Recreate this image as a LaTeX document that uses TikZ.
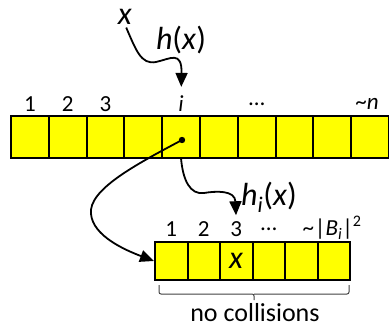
\documentclass[tikz,border=0pt]{standalone}
\usepackage{fontspec}
\setmainfont{Carlito}
\usepackage{tikz}
\usepackage{xcolor}
\usetikzlibrary{positioning, arrows.meta, calc}
\definecolor{cCell}  {HTML}{FFFF00}
\definecolor{cBrace} {HTML}{404040}

\begin{document}
\begin{tikzpicture}[x=1pt, y=-1pt,
    cell/.style={draw, fill=cCell, line width=2pt, inner sep=0pt},
    lbl/.style={inner sep=0pt, font=\fontsize{23pt}{28pt}\selectfont},
    big/.style={inner sep=0pt, font=\fontsize{32pt}{38pt}\selectfont},
    hop/.style={line width=1.8pt, -{Triangle[length=14pt, width=12pt]}},
  ]
  \useasboundingbox (0,0) rectangle (389,329);
  % top table, ten slots
  \foreach \k in {1,...,10}
    \node[cell, minimum width=37.8pt, minimum height=42pt] (t\k) at ({11+37.8*(\k-0.5)}, 137) {};
  \node[lbl] (tl1) at (t1.center |- 0,104) {1};
  \node[lbl] (tl2) at (t2.center |- 0,104) {2};
  \node[lbl] (tl3) at (t3.center |- 0,104) {3};
  \node[lbl] (tli) at (t5.center |- 0,104) {\textit{i}};
  \node[lbl] (tld) at (t7.center |- 0,104) {\dots};
  \node[lbl] (tln) at (367,104) {\textasciitilde\textit{n}};
  % second level table for bucket i
  \foreach \k in {1,...,6}
    \node[cell, minimum width=32.5pt, minimum height=38pt] (b\k) at ({155+32.5*(\k-0.5)}, 261) {};
  \node[lbl] (bl1) at (b1.center |- 0,229) {1};
  \node[lbl] (bl2) at (b2.center |- 0,229) {2};
  \node[lbl] (bl3) at (b3.center |- 0,229) {3};
  \node[lbl] (bl4) at (b4.center |- 0,229) {\dots};
  \node[lbl] (bl6) at (332,228) {\textasciitilde\kern1pt|\textit{B}\textsubscript{\textit{i}}|\textsuperscript{2}};
  \node[big] (bx) at (b3) {\textit{x}};
  % key and hash labels
  \node[big] (xlab) at (125,17) {\textit{x}};
  \node[big] (hlab) at (181,40) {\textit{h}(\textit{x})};
  \node[big] (hilab) at (269,197) {\textit{h}\textsubscript{\textit{i}}(\textit{x})};
  \coordinate (dot) at (182,140);
  \fill (dot) circle (3.2pt);
  \draw[hop, shorten <=3pt, shorten >=9pt] (xlab.south)
        .. controls (136,50) and (141,65) .. (156,62)
        .. controls (170,59) and (182,50) .. (tli.north);
  \draw[hop, shorten >=6pt] (t5.south)
        .. controls (183,180) and (190,195) .. (204,193)
        .. controls (216,191) and (235,190) .. (bl3.north);
  \draw[hop] (dot) .. controls (135,165) and (88,190) .. (91,214)
        .. controls (93,236) and (125,250) .. (b1.west);
  % brace under second table
  \draw[cBrace, line width=1pt, rounded corners=2pt]
        (159,285) -- (159,294) -- (254,294) -- (254,300)
        (254,294) -- (349,294) -- (349,285);
  \node[inner sep=0pt, font=\fontsize{26pt}{30pt}\selectfont] (nocoll) at (255,313) {no collisions};
\end{tikzpicture}
\end{document}
